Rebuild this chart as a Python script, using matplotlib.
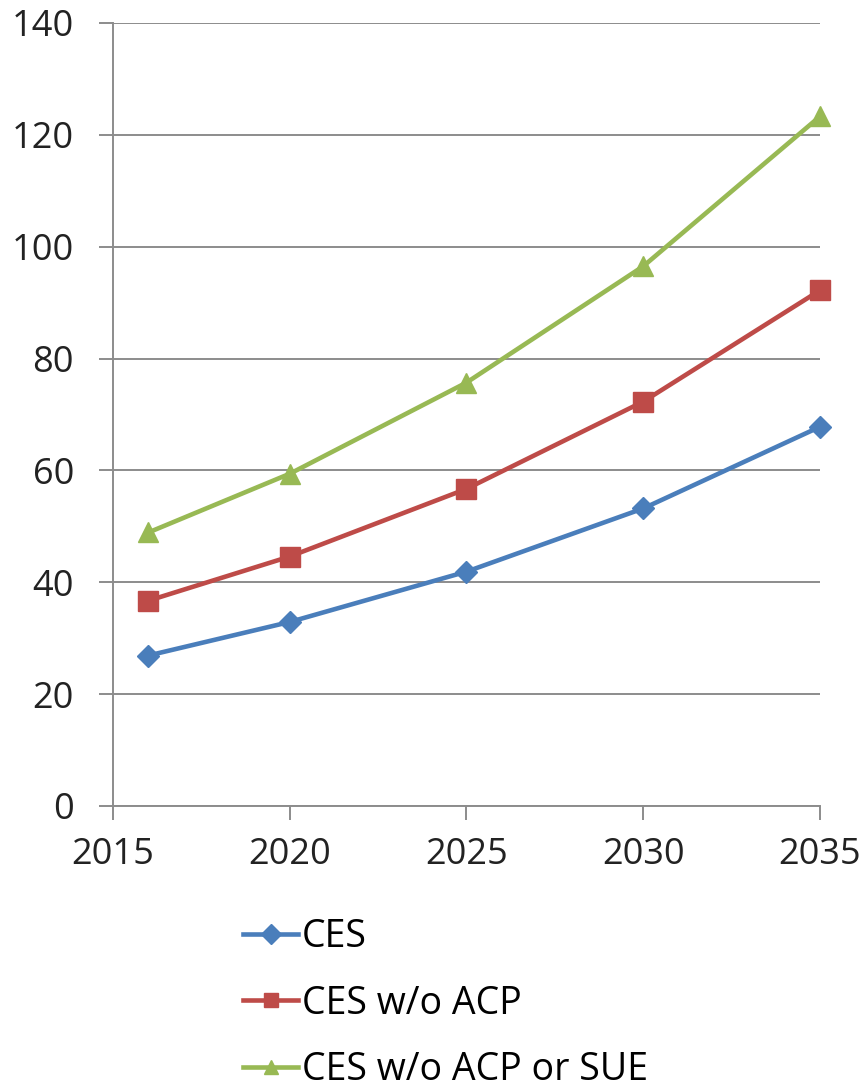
import matplotlib
matplotlib.use("Agg")
import matplotlib.pyplot as plt

# Projected values by scenario
years = [2016, 2020, 2025, 2030, 2035]
ces = [26.9, 32.9, 41.9, 53.2, 67.8]
ces_no_acp = [36.7, 44.6, 56.7, 72.3, 92.2]
ces_no_acp_sue = [48.9, 59.4, 75.7, 96.5, 123.3]

labels = ["CES", "CES w/o ACP", "CES w/o ACP or SUE"]
colors = ["#4A7EBB", "#BE4B48", "#98B954"]
markers = ["D", "s", "^"]
sizes = [11, 14, 15]

plt.rcParams["font.family"] = ["Open Sans", "DejaVu Sans"]

fig = plt.figure(figsize=(8.65, 10.88), dpi=100)
ax = fig.add_axes([0.1306, 0.2592, 0.8174, 0.7197])

for vals, lab, c, m, ms in zip([ces, ces_no_acp, ces_no_acp_sue], labels, colors, markers, sizes):
    ax.plot(years, vals, color=c, lw=3.3, marker=m, markersize=ms, label=lab,
            clip_on=False, zorder=3)

ax.set_xlim(2015, 2035)
ax.set_ylim(0, 140)
ax.set_xticks([2015, 2020, 2025, 2030, 2035])
ax.set_yticks(range(0, 141, 20))

grid_col = "#8C8C8C"
ax.yaxis.grid(True, color=grid_col, lw=1.4)
ax.set_axisbelow(True)
for s in ["top", "right"]:
    ax.spines[s].set_visible(False)
for s in ["left", "bottom"]:
    ax.spines[s].set_color(grid_col)
    ax.spines[s].set_linewidth(1.4)

ax.tick_params(axis="both", colors=grid_col, width=1.4, length=10, labelsize=26,
               labelcolor="#222222")
ax.tick_params(axis="x", pad=12)
ax.tick_params(axis="y", pad=18)

leg = fig.legend(loc="upper left", bbox_to_anchor=(0.2636, 0.1696), frameon=False,
                 fontsize=27, handlelength=1.47, handletextpad=0.1, labelspacing=0.75,
                 borderaxespad=0)
for h in leg.legend_handles:
    h.set_markersize(10)

fig.savefig("out.png", dpi=100, facecolor="white")
